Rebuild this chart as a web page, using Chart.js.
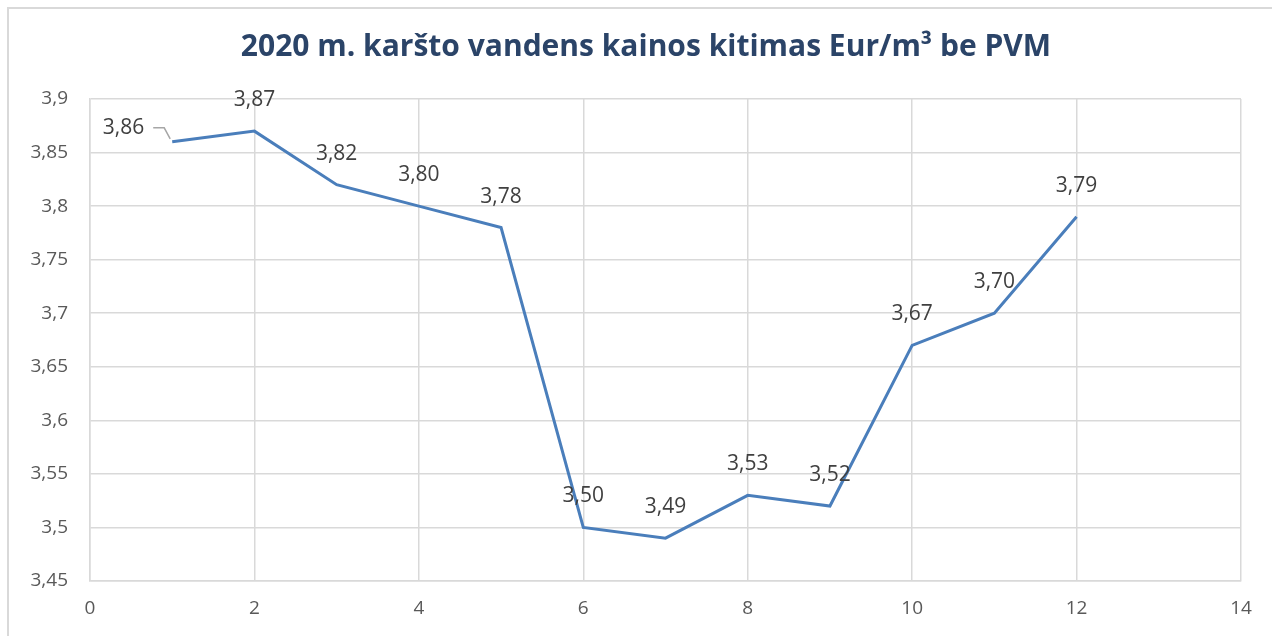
<!DOCTYPE html>
<html>
<head>
<meta charset="utf-8">
<script src="https://cdn.jsdelivr.net/npm/chart.js@4"></script>
<style>
  body { margin: 0; background: #fff; }
  #wrap { position: relative; width: 1272px; height: 636px; }
  #frame { position: absolute; left: 7px; top: 7px; width: 1280px; height: 700px;
           border: 2px solid #D9D9D9; box-sizing: border-box; pointer-events: none; }
</style>
</head>
<body>
<div id="wrap">
  <canvas id="priceChart" width="1272" height="636"></canvas>
  <div id="frame"></div>
</div>
<script>
const months = [1, 2, 3, 4, 5, 6, 7, 8, 9, 10, 11, 12];
const prices = [3.86, 3.87, 3.82, 3.80, 3.78, 3.50, 3.49, 3.53, 3.52, 3.67, 3.70, 3.79];
const titleText = '2020 m. karšto vandens kainos kitimas Eur/m³ be PVM';

const fontFam = "'Open Sans', 'Liberation Sans', sans-serif";

// title centred on the whole frame (Chart.js would centre it inside the padding)
const titlePlugin = {
    id: 'frameTitle',
    afterDraw(chart) {
        const ctx = chart.ctx;
        ctx.save();
        ctx.font = 'bold 30px ' + fontFam;
        ctx.fillStyle = '#2B4468';
        ctx.textAlign = 'center';
        ctx.textBaseline = 'middle';
        ctx.fillText(titleText, 646, 47);
        ctx.restore();
    }
};

// data labels drawn above each point, first one to the left with a small leader line
const labelPlugin = {
    id: 'labels',
    afterDatasetsDraw(chart) {
        const ctx = chart.ctx;
        const meta = chart.getDatasetMeta(0);
        ctx.save();
        ctx.font = '21px ' + fontFam;
        ctx.fillStyle = '#404040';
        ctx.textBaseline = 'middle';
        meta.data.forEach((pt, i) => {
            const txt = prices[i].toFixed(2).replace('.', ',');
            if (i === 0) {
                ctx.textAlign = 'right';
                ctx.fillText(txt, pt.x - 28, pt.y - 14);
                ctx.strokeStyle = '#A6A6A6';
                ctx.lineWidth = 1.5;
                ctx.beginPath();
                ctx.moveTo(pt.x - 19, pt.y - 14);
                ctx.lineTo(pt.x - 8, pt.y - 14);
                ctx.lineTo(pt.x - 2, pt.y - 3);
                ctx.stroke();
            } else {
                ctx.textAlign = 'center';
                ctx.fillText(txt, pt.x, pt.y - 31);
            }
        });
        ctx.restore();
    }
};

const chart = new Chart(document.getElementById('priceChart'), {
    type: 'scatter',
    data: {
        datasets: [{
            data: months.map((m, i) => ({ x: m, y: prices[i] })),
            showLine: true,
            borderColor: '#4A7EBB',
            borderWidth: 3,
            pointRadius: 0,
            tension: 0
        }]
    },
    options: {
        responsive: false,
        animation: false,
        layout: { padding: { left: 0, right: 31, top: 99, bottom: 0 } },
        plugins: {
            legend: { display: false },
            tooltip: { enabled: false },
            title: { display: false }
        },
        scales: {
            x: {
                type: 'linear',
                min: 0,
                max: 14,
                ticks: {
                    stepSize: 2,
                    color: '#595959',
                    font: { family: fontFam, size: 19 },
                    padding: 16
                },
                grid: { color: '#D9D9D9', lineWidth: 1.5, drawTicks: false },
                border: { color: '#D9D9D9', width: 1.5 },
                afterFit(scale) { scale.height = 55; }
            },
            y: {
                min: 3.45,
                max: 3.9,
                ticks: {
                    stepSize: 0.05,
                    color: '#595959',
                    font: { family: fontFam, size: 19 },
                    padding: 22,
                    callback: v => String(Math.round(v * 100) / 100).replace('.', ',')
                },
                grid: { color: '#D9D9D9', lineWidth: 1.5, drawTicks: false },
                border: { color: '#D9D9D9', width: 1.5 },
                afterFit(scale) { scale.width = 90; }
            }
        }
    },
    plugins: [labelPlugin, titlePlugin]
});
</script>
</body>
</html>
